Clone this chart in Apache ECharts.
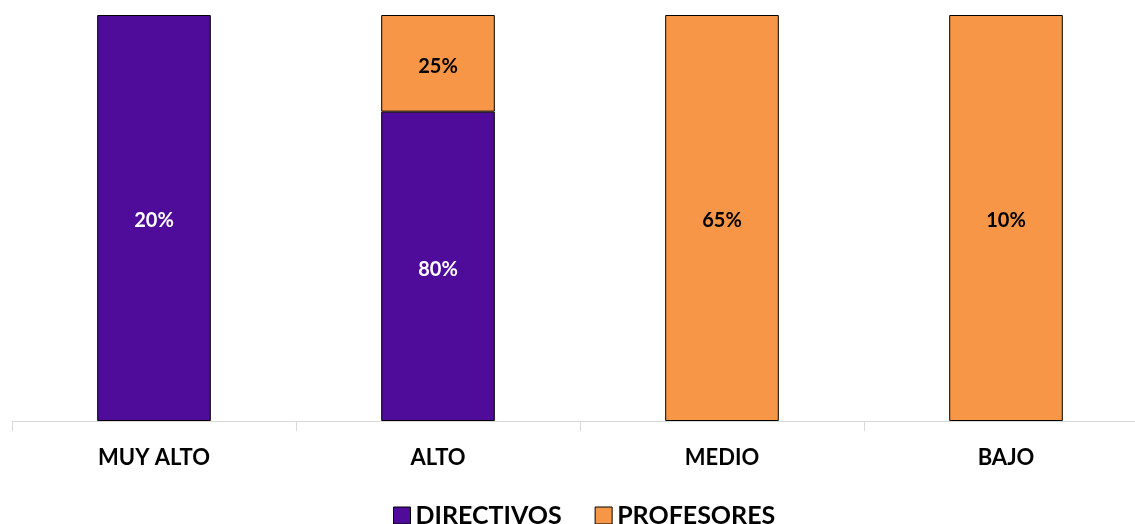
<!DOCTYPE html>
<html>
<head>
<meta charset="utf-8">
<script src="https://cdn.jsdelivr.net/npm/echarts@6/dist/echarts.min.js"></script>
<style>
  html, body { margin: 0; padding: 0; background: #fff; overflow: hidden; width: 1135px; height: 524px; }
  /* the category axis runs slightly past the right edge of the page */
  #chart { width: 1148px; height: 524px; }
</style>
</head>
<body>
<div id="chart"></div>
<script>
// Categories and per-group percentages
const categories = ['MUY ALTO', 'ALTO', 'MEDIO', 'BAJO'];
const directivos = [20, 80, 0, 0];
const profesores = [0, 25, 65, 10];

// Each column is stacked to 100%: share of each group within the column
const totals = categories.map((_, i) => directivos[i] + profesores[i]);
const share = (arr) => arr.map((v, i) =>
  v ? { value: v / totals[i] * 100, raw: v } : { value: '-', raw: 0 });

const FONT = 'Lato';
const labelFmt = (p) => p.data.raw ? p.data.raw + '%' : '';

const chart = echarts.init(document.getElementById('chart'));
chart.setOption({
  animation: false,
  textStyle: { fontFamily: FONT },
  grid: { left: 12, right: 0, top: 15, bottom: 103, containLabel: false },
  legend: {
    top: 498,
    left: 388,
    itemWidth: 17,
    itemHeight: 17,
    itemGap: 33,
    icon: 'rect',
    itemStyle: { borderColor: '#000', borderWidth: 1 },
    textStyle: { fontFamily: FONT, fontWeight: 'bold', fontSize: 25, color: '#000' },
    data: ['DIRECTIVOS', 'PROFESORES']
  },
  xAxis: {
    type: 'category',
    data: categories,
    axisLine: { lineStyle: { color: '#d9d9d9', width: 1 } },
    axisTick: { show: true, length: 10, lineStyle: { color: '#d9d9d9' } },
    axisLabel: { fontFamily: FONT, fontWeight: 'bold', fontSize: 22, color: '#000', margin: 26 }
  },
  yAxis: {
    type: 'value',
    min: 0,
    max: 100,
    show: false,
    splitLine: { show: false }
  },
  series: [
    {
      name: 'DIRECTIVOS',
      type: 'bar',
      stack: 'total',
      barWidth: '40%',
      data: share(directivos),
      itemStyle: { color: '#4f0b99', borderColor: '#000', borderWidth: 1 },
      label: { show: true, position: 'inside', formatter: labelFmt, fontFamily: FONT, fontWeight: 'bold', fontSize: 20, color: '#fff', offset: [0, 3] }
    },
    {
      name: 'PROFESORES',
      type: 'bar',
      stack: 'total',
      barWidth: '40%',
      data: share(profesores),
      itemStyle: { color: '#f79646', borderColor: '#000', borderWidth: 1 },
      label: { show: true, position: 'inside', formatter: labelFmt, fontFamily: FONT, fontWeight: 'bold', fontSize: 20, color: '#000', offset: [0, 3] }
    }
  ]
});
</script>
</body>
</html>
